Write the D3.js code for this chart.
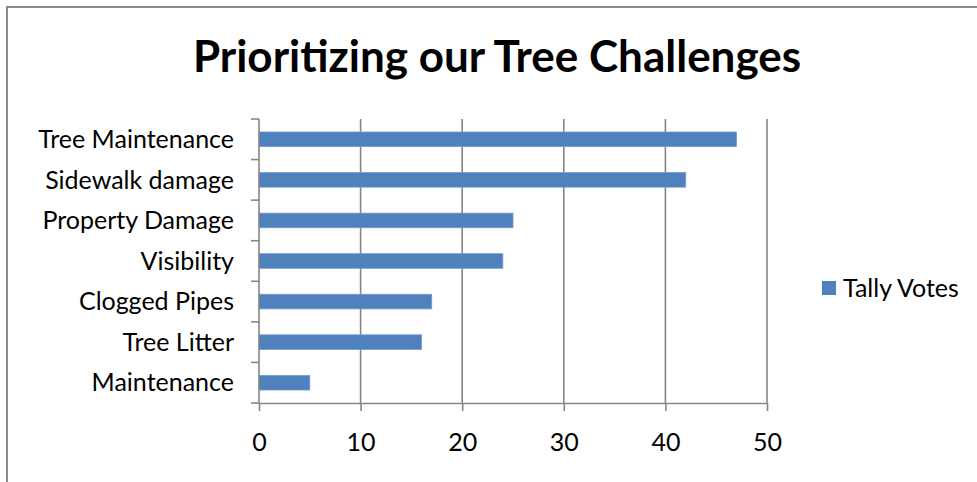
<!DOCTYPE html>
<html><head><meta charset="utf-8">
<script src="https://cdn.jsdelivr.net/npm/d3@7"></script>
<style>
html,body{margin:0;padding:0;background:#fff;}
svg{display:block;}
text{font-family:Lato,"Open Sans",sans-serif;fill:#000;}
</style></head>
<body>
<svg id="chart" width="977" height="482"></svg>
<script>
const title = "Prioritizing our Tree Challenges";
const categories = ["Tree Maintenance","Sidewalk damage","Property Damage","Visibility","Clogged Pipes","Tree Litter","Maintenance"];
const values = [47,42,25,24,17,16,5];
const seriesName = "Tally Votes";
const xTicks = [0,10,20,30,40,50];

const svg = d3.select("#chart");
const gridColor = "#868686";
const barColor = "#4F81BD";

// outer border
svg.append("rect").attr("x",7).attr("y",7).attr("width",980).attr("height",490)
  .attr("fill","none").attr("stroke","#8c8c8c").attr("stroke-width",2);

const x = d3.scaleLinear().domain([0,50]).range([259,767]);
const y = d3.scaleBand().domain(categories).range([119,403]).paddingInner(0.64).paddingOuter(0.32);

// title
svg.append("text").attr("x",497).attr("y",72).attr("text-anchor","middle")
  .style("font-size","44px").style("font-weight","bold").text(title);

// gridlines
svg.append("g").selectAll("line").data(xTicks.filter(d=>d>0)).join("line")
  .attr("x1",d=>x(d)).attr("x2",d=>x(d)).attr("y1",119).attr("y2",403)
  .attr("stroke",gridColor).attr("stroke-width",1.6);

// bars
svg.append("g").selectAll("rect").data(values).join("rect")
  .attr("x",x(0)).attr("y",(d,i)=>y(categories[i]))
  .attr("width",d=>x(d)-x(0)).attr("height",y.bandwidth())
  .attr("fill",barColor).attr("stroke","#6f9bd1").attr("stroke-width",0.8);

// x axis
const xAxis = d3.axisBottom(x).tickValues(xTicks).tickSize(8).tickPadding(22);
const gx = svg.append("g").attr("transform","translate(0,403)").call(xAxis);
gx.select(".domain").attr("stroke",gridColor).attr("stroke-width",1.6).attr("d","M259,0.5H767");
gx.selectAll(".tick line").attr("stroke",gridColor).attr("stroke-width",1.6);
gx.selectAll(".tick text").style("font-size","25px").style("font-family","Lato,'Open Sans',sans-serif").attr("fill","#000");

// y axis
const yBoundaries = d3.range(categories.length+1).map(i=>119 + i*(403-119)/categories.length);
svg.append("line").attr("x1",259).attr("x2",259).attr("y1",119).attr("y2",403)
  .attr("stroke",gridColor).attr("stroke-width",1.6);
svg.append("g").selectAll("line").data(yBoundaries).join("line")
  .attr("x1",251).attr("x2",259).attr("y1",d=>d).attr("y2",d=>d)
  .attr("stroke",gridColor).attr("stroke-width",1.6);
svg.append("g").selectAll("text").data(categories).join("text")
  .attr("x",234).attr("y",d=>y(d)+y.bandwidth()/2).attr("dy","0.35em")
  .attr("text-anchor","end").style("font-size","25px").text(d=>d);

// legend
svg.append("rect").attr("x",822).attr("y",281).attr("width",14).attr("height",14).attr("fill",barColor);
svg.append("text").attr("x",843).attr("y",288).attr("dy","0.35em").style("font-size","25px").text(seriesName);
</script>
</body></html>
